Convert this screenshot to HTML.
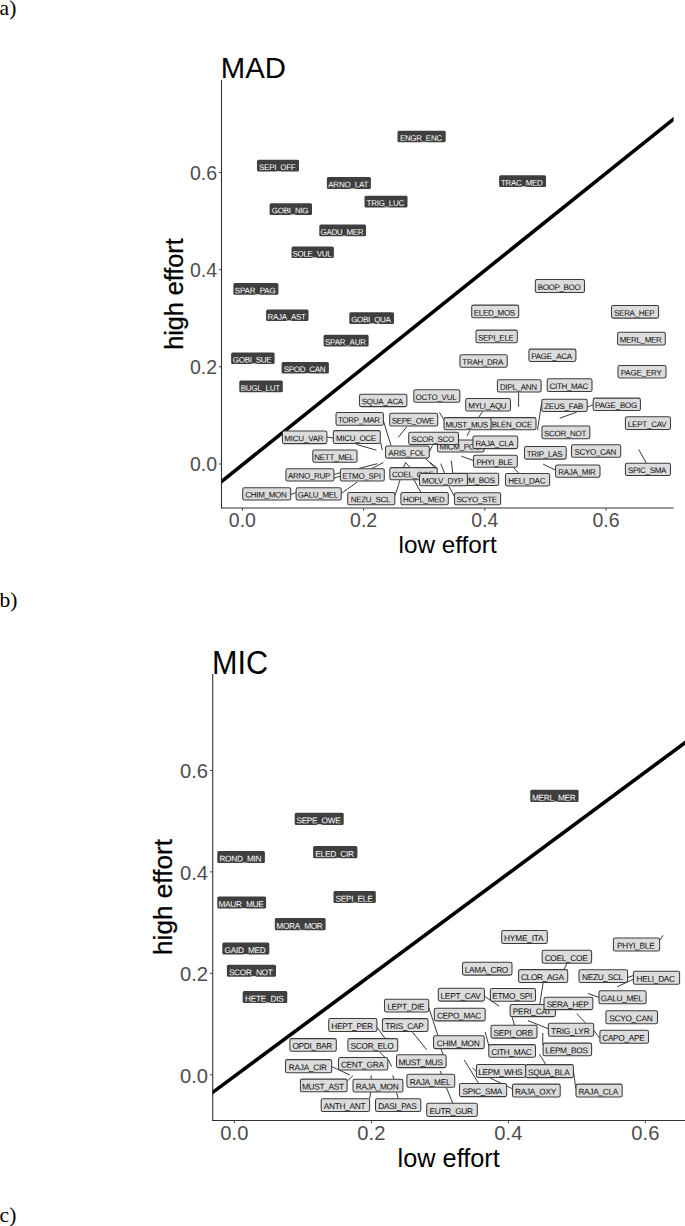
<!DOCTYPE html>
<html><head><meta charset="utf-8"><title>fig</title>
<style>
html,body{margin:0;padding:0;background:#fff;}
body{width:685px;height:1226px;position:relative;overflow:hidden;font-family:"Liberation Sans",sans-serif;}
.pl{position:absolute;left:-0.4px;font-family:"Liberation Serif",serif;font-size:21.5px;line-height:24px;color:#000;white-space:nowrap}
.lb{position:absolute;box-sizing:content-box;white-space:nowrap;overflow:visible;font-family:"Liberation Sans",sans-serif;}
.lb span{position:relative;display:block;}
.d{background:#3f3f3f;color:#fff;border-radius:1.5px;}
.d span{left:2.3px;top:1.3px}
.l{background:#dcdcdc;color:#1a1a1a;border:1px solid #3a3a3a;border-radius:2.5px;}
.l span{left:1.3px;top:1.0px}
svg{position:absolute;left:0;top:0}
.ax{stroke:#333;stroke-width:1.1}
.tk{stroke:#444;stroke-width:1}
.diag{stroke:#000;stroke-width:3.6}
.sg line{stroke:#222;stroke-width:0.9}
.rd{fill:#3f3f3f}
.rl{fill:#dcdcdc;stroke:#3c3c3c;stroke-width:1.05}
.td{fill:#fff}
.tl{fill:#0a0a0a}
.tt{position:absolute;color:#4d4d4d;white-space:nowrap}
.ti{position:absolute;color:#000;white-space:nowrap}
.sq{display:inline-block;transform:scaleX(0.98);transform-origin:50% 50%;-webkit-text-stroke:0.25px #000}
</style></head><body>
<div class="pl" style="top:-4.3px">a)</div>
<div class="pl" style="top:587.9px">b)</div>
<div class="pl" style="top:1202.7px">c)</div>

<svg width="685" height="1226" viewBox="0 0 685 1226">
<line class="ax" x1="221.5" y1="80" x2="221.5" y2="508.5"/>
<line class="ax" x1="221.0" y1="508.0" x2="673.5" y2="508.0"/>
<line class="tk" x1="242.4" y1="508.0" x2="242.4" y2="510.7"/>
<line class="tk" x1="218.8" y1="464.0" x2="221.5" y2="464.0"/>
<line class="tk" x1="363.6" y1="508.0" x2="363.6" y2="510.7"/>
<line class="tk" x1="218.8" y1="366.8" x2="221.5" y2="366.8"/>
<line class="tk" x1="484.8" y1="508.0" x2="484.8" y2="510.7"/>
<line class="tk" x1="218.8" y1="269.7" x2="221.5" y2="269.7"/>
<line class="tk" x1="606.0" y1="508.0" x2="606.0" y2="510.7"/>
<line class="tk" x1="218.8" y1="172.5" x2="221.5" y2="172.5"/>
<clipPath id="c221"><rect x="221.5" y="80" width="452.1" height="428.0"/></clipPath>
<line class="diag" clip-path="url(#c221)" x1="215.5" y1="486.4" x2="679.5" y2="114.4"/>
<line class="ax" x1="212.7" y1="673.9" x2="212.7" y2="1121.05"/>
<line class="ax" x1="212.2" y1="1120.55" x2="686" y2="1120.55"/>
<line class="tk" x1="234.4" y1="1120.55" x2="234.4" y2="1123.25"/>
<line class="tk" x1="210.0" y1="1074.8" x2="212.7" y2="1074.8"/>
<line class="tk" x1="371.4" y1="1120.55" x2="371.4" y2="1123.25"/>
<line class="tk" x1="210.0" y1="973.3" x2="212.7" y2="973.3"/>
<line class="tk" x1="508.4" y1="1120.55" x2="508.4" y2="1123.25"/>
<line class="tk" x1="210.0" y1="871.9" x2="212.7" y2="871.9"/>
<line class="tk" x1="645.4" y1="1120.55" x2="645.4" y2="1123.25"/>
<line class="tk" x1="210.0" y1="770.5" x2="212.7" y2="770.5"/>
<clipPath id="c212"><rect x="212.7" y="673.9" width="473.4" height="446.6"/></clipPath>
<line class="diag" clip-path="url(#c212)" x1="206.7" y1="1096.8" x2="692.0" y2="737.5"/>
<g class="sg">
<line x1="383.4" y1="420.8" x2="391.0" y2="445.6"/>
<line x1="406.6" y1="426.9" x2="398.3" y2="437.4"/>
<line x1="380.8" y1="442.7" x2="382.2" y2="450.0"/>
<line x1="356.3" y1="444.4" x2="376.4" y2="450.2"/>
<line x1="358.9" y1="468.4" x2="377.3" y2="463.7"/>
<line x1="371.2" y1="468.9" x2="383.4" y2="462.5"/>
<line x1="333.9" y1="474.5" x2="340.2" y2="472.8"/>
<line x1="333.9" y1="478.0" x2="340.2" y2="476.3"/>
<line x1="326.9" y1="437.0" x2="333.1" y2="438.0"/>
<line x1="290.7" y1="494.5" x2="295.9" y2="492.7"/>
<line x1="341.2" y1="493.5" x2="357.2" y2="482.1"/>
<line x1="395.2" y1="495.2" x2="400.0" y2="480.0"/>
<line x1="420.7" y1="492.1" x2="414.1" y2="480.0"/>
<line x1="403.6" y1="467.2" x2="405.7" y2="462.5"/>
<line x1="405.7" y1="462.5" x2="409.7" y2="467.2"/>
<line x1="426.0" y1="459.0" x2="435.1" y2="467.7"/>
<line x1="440.7" y1="463.7" x2="444.7" y2="473.3"/>
<line x1="432.5" y1="445.3" x2="429.3" y2="452.3"/>
<line x1="439.5" y1="412.4" x2="443.9" y2="419.9"/>
<line x1="518.6" y1="392.6" x2="518.6" y2="406.8"/>
<line x1="541.6" y1="403.1" x2="537.5" y2="430.2"/>
<line x1="482.8" y1="411.2" x2="478.4" y2="417.6"/>
<line x1="469.9" y1="430.5" x2="467.0" y2="435.9"/>
<line x1="461.3" y1="456.2" x2="473.3" y2="460.5"/>
<line x1="513.5" y1="467.6" x2="518.8" y2="473.3"/>
<line x1="543.1" y1="464.1" x2="555.4" y2="470.1"/>
<line x1="451.3" y1="460.9" x2="452.8" y2="473.3"/>
<line x1="430.0" y1="462.4" x2="437.6" y2="468.5"/>
<line x1="449.0" y1="486.5" x2="454.3" y2="496.0"/>
<line x1="587.2" y1="407.2" x2="593.0" y2="404.7"/>
<line x1="576.6" y1="412.2" x2="559.7" y2="418.2"/>
<line x1="638.7" y1="449.5" x2="646.4" y2="463.3"/>
<line x1="376.9" y1="1027.2" x2="385.0" y2="1038.4"/>
<line x1="412.5" y1="1032.0" x2="426.5" y2="1049.6"/>
<line x1="379.5" y1="1052.0" x2="385.0" y2="1057.4"/>
<line x1="388.2" y1="1059.6" x2="391.7" y2="1066.6"/>
<line x1="331.7" y1="1066.6" x2="349.9" y2="1075.0"/>
<line x1="347.5" y1="1080.9" x2="353.2" y2="1075.4"/>
<line x1="371.2" y1="1075.4" x2="371.2" y2="1079.2"/>
<line x1="392.8" y1="1075.3" x2="393.9" y2="1079.3"/>
<line x1="369.6" y1="1098.8" x2="370.7" y2="1092.3"/>
<line x1="398.3" y1="1098.8" x2="396.5" y2="1092.5"/>
<line x1="428.7" y1="1007.4" x2="438.0" y2="1035.8"/>
<line x1="441.0" y1="1049.2" x2="443.2" y2="1054.8"/>
<line x1="484.4" y1="996.2" x2="499.3" y2="1006.2"/>
<line x1="512.3" y1="1017.3" x2="514.4" y2="1025.2"/>
<line x1="485.2" y1="1032.0" x2="488.9" y2="1046.0"/>
<line x1="464.2" y1="1059.9" x2="478.4" y2="1083.2"/>
<line x1="472.5" y1="1067.6" x2="476.2" y2="1071.5"/>
<line x1="490.0" y1="1077.9" x2="512.3" y2="1088.7"/>
<line x1="440.1" y1="1070.9" x2="441.6" y2="1074.2"/>
<line x1="446.6" y1="1088.0" x2="452.8" y2="1103.3"/>
<line x1="659.6" y1="940.4" x2="663.2" y2="935.3"/>
<line x1="566.8" y1="963.8" x2="563.8" y2="969.7"/>
<line x1="543.1" y1="983.0" x2="539.7" y2="1004.6"/>
<line x1="627.6" y1="977.5" x2="633.2" y2="975.6"/>
<line x1="633.2" y1="979.3" x2="617.1" y2="986.8"/>
<line x1="587.8" y1="993.4" x2="598.8" y2="997.3"/>
<line x1="576.7" y1="1013.7" x2="585.4" y2="1022.9"/>
<line x1="528.0" y1="1020.7" x2="548.4" y2="1028.7"/>
<line x1="593.7" y1="1030.2" x2="599.7" y2="1038.3"/>
<line x1="542.8" y1="1033.0" x2="542.8" y2="1045.0"/>
<line x1="539.4" y1="1054.1" x2="545.8" y2="1064.6"/>
<line x1="573.4" y1="1070.6" x2="575.8" y2="1088.6"/>
</g>
</svg>

<!-- titles -->
<div class="ti" style="left:220.8px;top:51.98px;font-size:29.3px;line-height:32.73px;transform-origin:0 81%;transform:scaleY(1.025)">MAD</div>
<div class="ti" style="left:211.9px;top:645.61px;font-size:30.6px;line-height:34.18px;transform-origin:0 81%;transform:scaleY(1.065)">MIC</div>
<div class="ti" style="left:347.6px;width:200px;text-align:center;top:530.7px;font-size:24.3px;line-height:27.14px">low effort</div>
<div class="ti" style="left:348.7px;width:200px;text-align:center;top:1144.0px;font-size:25.3px;line-height:28.26px">low effort</div>
<div class="ti" id="ya" style="left:183.2px;top:294.2px;font-size:25.7px;line-height:28.71px;transform-origin:0 0;transform:rotate(-90deg) translate(-50%,-23.26px)"><span class="sq">high effort</span></div>
<div class="ti" id="yb" style="left:172.8px;top:896.6px;font-size:26.7px;line-height:29.82px;transform-origin:0 0;transform:rotate(-90deg) translate(-50%,-24.16px)"><span class="sq">high effort</span></div>

<div class="tt" style="left:212.4px;width:60px;text-align:center;top:509.9px;font-size:19.5px;line-height:21.78px">0.0</div>
<div class="tt" style="left:157.0px;width:60px;text-align:right;top:454.4px;font-size:19.5px;line-height:21.78px">0.0</div>
<div class="tt" style="left:333.6px;width:60px;text-align:center;top:509.9px;font-size:19.5px;line-height:21.78px">0.2</div>
<div class="tt" style="left:157.0px;width:60px;text-align:right;top:357.2px;font-size:19.5px;line-height:21.78px">0.2</div>
<div class="tt" style="left:454.8px;width:60px;text-align:center;top:509.9px;font-size:19.5px;line-height:21.78px">0.4</div>
<div class="tt" style="left:157.0px;width:60px;text-align:right;top:260.0px;font-size:19.5px;line-height:21.78px">0.4</div>
<div class="tt" style="left:576.0px;width:60px;text-align:center;top:509.9px;font-size:19.5px;line-height:21.78px">0.6</div>
<div class="tt" style="left:157.0px;width:60px;text-align:right;top:162.9px;font-size:19.5px;line-height:21.78px">0.6</div>
<div class="tt" style="left:204.4px;width:60px;text-align:center;top:1122.3px;font-size:20.2px;line-height:22.56px">0.0</div>
<div class="tt" style="left:148.1px;width:60px;text-align:right;top:1064.6px;font-size:20.2px;line-height:22.56px">0.0</div>
<div class="tt" style="left:341.4px;width:60px;text-align:center;top:1122.3px;font-size:20.2px;line-height:22.56px">0.2</div>
<div class="tt" style="left:148.1px;width:60px;text-align:right;top:963.1px;font-size:20.2px;line-height:22.56px">0.2</div>
<div class="tt" style="left:478.4px;width:60px;text-align:center;top:1122.3px;font-size:20.2px;line-height:22.56px">0.4</div>
<div class="tt" style="left:148.1px;width:60px;text-align:right;top:861.7px;font-size:20.2px;line-height:22.56px">0.4</div>
<div class="tt" style="left:615.4px;width:60px;text-align:center;top:1122.3px;font-size:20.2px;line-height:22.56px">0.6</div>
<div class="tt" style="left:148.1px;width:60px;text-align:right;top:760.3px;font-size:20.2px;line-height:22.56px">0.6</div>

<svg width="685" height="1226" viewBox="0 0 685 1226" font-family="Liberation Sans, sans-serif">
<rect class="rd" x="397.50" y="130.80" width="48.20" height="11.50" rx="1.5"/><text class="td" x="399.89" y="140.75" font-size="8.0" textLength="42.23" transform="rotate(0.03 421.0 140.8)">ENGR_ENC</text>
<rect class="rd" x="257.00" y="159.80" width="42.00" height="11.70" rx="1.5"/><text class="td" x="259.03" y="169.95" font-size="8.0" textLength="36.75" transform="rotate(0.03 277.4 169.9)">SEPI_OFF</text>
<rect class="rd" x="326.90" y="177.00" width="44.00" height="11.90" rx="1.5"/><text class="td" x="328.24" y="187.35" font-size="8.0" textLength="40.12" transform="rotate(0.03 348.3 187.3)">ARNO_LAT</text>
<rect class="rd" x="499.10" y="175.30" width="46.90" height="11.70" rx="1.5"/><text class="td" x="501.05" y="185.45" font-size="8.0" textLength="41.80" transform="rotate(0.03 521.9 185.4)">TRAC_MED</text>
<rect class="rd" x="364.50" y="195.80" width="43.00" height="11.60" rx="1.5"/><text class="td" x="366.61" y="205.85" font-size="8.0" textLength="37.58" transform="rotate(0.03 385.4 205.8)">TRIG_LUC</text>
<rect class="rd" x="269.60" y="203.30" width="42.40" height="11.60" rx="1.5"/><text class="td" x="271.83" y="213.35" font-size="8.0" textLength="36.75" transform="rotate(0.03 290.2 213.3)">GOBI_NIG</text>
<rect class="rd" x="319.30" y="224.60" width="46.70" height="11.60" rx="1.5"/><text class="td" x="320.52" y="234.65" font-size="8.0" textLength="43.07" transform="rotate(0.03 342.0 234.6)">GADU_MER</text>
<rect class="rd" x="291.50" y="246.50" width="42.40" height="11.50" rx="1.5"/><text class="td" x="292.46" y="256.45" font-size="8.0" textLength="39.28" transform="rotate(0.03 312.1 256.4)">SOLE_VUL</text>
<rect class="rd" x="233.40" y="283.10" width="45.00" height="11.60" rx="1.5"/><text class="td" x="234.81" y="293.15" font-size="8.0" textLength="40.97" transform="rotate(0.03 255.3 293.1)">SPAR_PAG</text>
<rect class="rd" x="266.10" y="309.60" width="42.40" height="11.40" rx="1.5"/><text class="td" x="267.48" y="319.45" font-size="8.0" textLength="38.43" transform="rotate(0.03 286.7 319.4)">RAJA_AST</text>
<rect class="rd" x="349.30" y="312.30" width="44.70" height="11.60" rx="1.5"/><text class="td" x="351.20" y="322.35" font-size="8.0" textLength="39.70" transform="rotate(0.03 371.0 322.3)">GOBI_QUA</text>
<rect class="rd" x="323.60" y="334.80" width="45.00" height="11.60" rx="1.5"/><text class="td" x="325.02" y="344.85" font-size="8.0" textLength="40.96" transform="rotate(0.03 345.5 344.8)">SPAR_AUR</text>
<rect class="rd" x="231.10" y="352.60" width="43.50" height="11.40" rx="1.5"/><text class="td" x="232.82" y="362.45" font-size="8.0" textLength="38.86" transform="rotate(0.03 252.3 362.4)">GOBI_SUE</text>
<rect class="rd" x="281.60" y="361.90" width="47.30" height="11.60" rx="1.5"/><text class="td" x="283.75" y="371.95" font-size="8.0" textLength="41.81" transform="rotate(0.03 304.6 371.9)">SPOD_CAN</text>
<rect class="rd" x="239.30" y="380.60" width="43.50" height="11.60" rx="1.5"/><text class="td" x="240.81" y="390.65" font-size="8.0" textLength="39.28" transform="rotate(0.03 260.4 390.6)">BUGL_LUT</text>
<rect class="rl" x="535.30" y="279.40" width="49.20" height="13.10" rx="1.8"/><text class="tl" x="537.66" y="290.10" font-size="8.0" textLength="43.08" transform="rotate(0.03 559.2 290.1)">BOOP_BOO</text>
<rect class="rl" x="471.70" y="305.10" width="47.00" height="12.70" rx="1.8"/><text class="tl" x="473.81" y="315.40" font-size="8.0" textLength="41.39" transform="rotate(0.03 494.5 315.4)">ELED_MOS</text>
<rect class="rl" x="611.50" y="305.50" width="47.10" height="12.60" rx="1.8"/><text class="tl" x="614.08" y="315.70" font-size="8.0" textLength="40.55" transform="rotate(0.03 634.4 315.7)">SERA_HEP</text>
<rect class="rl" x="476.00" y="330.10" width="41.30" height="12.70" rx="1.8"/><text class="tl" x="477.99" y="340.40" font-size="8.0" textLength="35.91" transform="rotate(0.03 495.9 340.4)">SEPI_ELE</text>
<rect class="rl" x="617.60" y="332.20" width="47.70" height="12.80" rx="1.8"/><text class="tl" x="619.64" y="342.60" font-size="8.0" textLength="42.23" transform="rotate(0.03 640.7 342.6)">MERL_MER</text>
<rect class="rl" x="528.90" y="349.10" width="47.00" height="12.30" rx="1.8"/><text class="tl" x="531.21" y="359.00" font-size="8.0" textLength="40.97" transform="rotate(0.03 551.7 359.0)">PAGE_ACA</text>
<rect class="rl" x="459.90" y="354.80" width="47.30" height="12.40" rx="1.8"/><text class="tl" x="462.37" y="364.80" font-size="8.0" textLength="40.96" transform="rotate(0.03 482.8 364.8)">TRAH_DRA</text>
<rect class="rl" x="618.00" y="365.50" width="48.00" height="12.40" rx="1.8"/><text class="tl" x="620.81" y="375.50" font-size="8.0" textLength="40.97" transform="rotate(0.03 641.3 375.5)">PAGE_ERY</text>
<rect class="rl" x="497.40" y="379.80" width="43.70" height="12.30" rx="1.8"/><text class="tl" x="499.97" y="389.70" font-size="8.0" textLength="37.16" transform="rotate(0.03 518.5 389.7)">DIPL_ANN</text>
<rect class="rl" x="547.20" y="378.70" width="44.80" height="12.80" rx="1.8"/><text class="tl" x="549.48" y="389.10" font-size="8.0" textLength="38.84" transform="rotate(0.03 568.9 389.1)">CITH_MAC</text>
<rect class="rl" x="359.50" y="394.20" width="47.40" height="12.40" rx="1.8"/><text class="tl" x="361.81" y="404.20" font-size="8.0" textLength="41.39" transform="rotate(0.03 382.5 404.2)">SQUA_ACA</text>
<rect class="rl" x="413.80" y="389.80" width="46.00" height="12.50" rx="1.8"/><text class="tl" x="415.62" y="399.90" font-size="8.0" textLength="40.96" transform="rotate(0.03 436.1 399.9)">OCTO_VUL</text>
<rect class="rl" x="465.70" y="398.50" width="44.80" height="12.50" rx="1.8"/><text class="tl" x="468.18" y="408.60" font-size="8.0" textLength="38.43" transform="rotate(0.03 487.4 408.6)">MYLI_AQU</text>
<rect class="rl" x="541.80" y="399.30" width="45.40" height="12.20" rx="1.8"/><text class="tl" x="544.16" y="409.10" font-size="8.0" textLength="39.28" transform="rotate(0.03 563.8 409.1)">ZEUS_FAB</text>
<rect class="rl" x="593.20" y="398.10" width="47.20" height="12.40" rx="1.8"/><text class="tl" x="594.98" y="408.10" font-size="8.0" textLength="42.24" transform="rotate(0.03 616.1 408.1)">PAGE_BOG</text>
<rect class="rl" x="336.00" y="412.50" width="47.40" height="12.70" rx="1.8"/><text class="tl" x="337.89" y="422.80" font-size="8.0" textLength="42.23" transform="rotate(0.03 359.0 422.8)">TORP_MAR</text>
<rect class="rl" x="389.70" y="413.30" width="48.00" height="12.70" rx="1.8"/><text class="tl" x="391.67" y="423.60" font-size="8.0" textLength="42.66" transform="rotate(0.03 413.0 423.6)">SEPE_OWE</text>
<rect class="rl" x="489.50" y="417.60" width="46.50" height="12.10" rx="1.8"/><text class="tl" x="491.78" y="427.30" font-size="8.0" textLength="40.55" transform="rotate(0.03 512.0 427.3)">BLEN_OCE</text>
<rect class="rl" x="444.00" y="417.60" width="47.10" height="12.20" rx="1.8"/><text class="tl" x="445.53" y="427.40" font-size="8.0" textLength="42.64" transform="rotate(0.03 466.9 427.4)">MUST_MUS</text>
<rect class="rl" x="625.40" y="416.80" width="45.10" height="12.70" rx="1.8"/><text class="tl" x="627.82" y="427.10" font-size="8.0" textLength="38.86" transform="rotate(0.03 647.2 427.1)">LEPT_CAV</text>
<rect class="rl" x="542.00" y="425.90" width="47.80" height="12.80" rx="1.8"/><text class="tl" x="544.09" y="436.30" font-size="8.0" textLength="42.23" transform="rotate(0.03 565.2 436.3)">SCOR_NOT</text>
<rect class="rl" x="282.40" y="431.00" width="44.50" height="12.60" rx="1.8"/><text class="tl" x="284.32" y="441.20" font-size="8.0" textLength="39.27" transform="rotate(0.03 303.9 441.2)">MICU_VAR</text>
<rect class="rl" x="333.30" y="430.60" width="47.00" height="12.90" rx="1.8"/><text class="tl" x="336.04" y="441.10" font-size="8.0" textLength="40.11" transform="rotate(0.03 356.1 441.1)">MICU_OCE</text>
<rect class="rl" x="437.40" y="440.00" width="46.70" height="11.90" rx="1.8"/><text class="tl" x="439.57" y="449.50" font-size="8.0" textLength="40.96" transform="rotate(0.03 460.0 449.5)">MICM_POU</text>
<rect class="rl" x="408.70" y="432.30" width="49.80" height="12.20" rx="1.8"/><text class="tl" x="411.57" y="442.10" font-size="8.0" textLength="42.65" transform="rotate(0.03 432.9 442.1)">SCOR_SCO</text>
<rect class="rl" x="472.90" y="435.90" width="44.80" height="12.70" rx="1.8"/><text class="tl" x="475.38" y="446.20" font-size="8.0" textLength="38.43" transform="rotate(0.03 494.6 446.2)">RAJA_CLA</text>
<rect class="rl" x="385.50" y="445.90" width="43.80" height="12.20" rx="1.8"/><text class="tl" x="388.33" y="455.70" font-size="8.0" textLength="36.75" transform="rotate(0.03 406.7 455.7)">ARIS_FOL</text>
<rect class="rl" x="524.50" y="446.50" width="41.70" height="12.60" rx="1.8"/><text class="tl" x="526.70" y="456.70" font-size="8.0" textLength="35.90" transform="rotate(0.03 544.6 456.7)">TRIP_LAS</text>
<rect class="rl" x="571.50" y="444.70" width="49.20" height="12.50" rx="1.8"/><text class="tl" x="574.50" y="454.80" font-size="8.0" textLength="41.81" transform="rotate(0.03 595.4 454.8)">SCYO_CAN</text>
<rect class="rl" x="312.80" y="450.00" width="44.20" height="12.30" rx="1.8"/><text class="tl" x="314.35" y="459.90" font-size="8.0" textLength="39.69" transform="rotate(0.03 334.2 459.9)">NETT_MEL</text>
<rect class="rl" x="473.50" y="455.20" width="43.80" height="12.10" rx="1.8"/><text class="tl" x="476.54" y="464.90" font-size="8.0" textLength="36.33" transform="rotate(0.03 494.7 464.9)">PHYI_BLE</text>
<rect class="rl" x="555.60" y="465.00" width="44.40" height="12.20" rx="1.8"/><text class="tl" x="558.31" y="474.80" font-size="8.0" textLength="37.58" transform="rotate(0.03 577.1 474.8)">RAJA_MIR</text>
<rect class="rl" x="625.40" y="463.30" width="45.10" height="12.20" rx="1.8"/><text class="tl" x="628.03" y="473.10" font-size="8.0" textLength="38.43" transform="rotate(0.03 647.2 473.1)">SPIC_SMA</text>
<rect class="rl" x="285.90" y="468.70" width="48.00" height="12.30" rx="1.8"/><text class="tl" x="288.09" y="478.60" font-size="8.0" textLength="42.23" transform="rotate(0.03 309.2 478.6)">ARNO_RUP</text>
<rect class="rl" x="340.40" y="468.80" width="43.90" height="12.30" rx="1.8"/><text class="tl" x="342.43" y="478.70" font-size="8.0" textLength="38.43" transform="rotate(0.03 361.6 478.7)">ETMO_SPI</text>
<rect class="rl" x="389.80" y="467.60" width="47.40" height="12.10" rx="1.8"/><text class="tl" x="392.11" y="477.30" font-size="8.0" textLength="41.39" transform="rotate(0.03 412.8 477.3)">COEL_COE</text>
<rect class="rl" x="451.90" y="473.30" width="46.80" height="12.20" rx="1.8"/><text class="tl" x="454.11" y="483.10" font-size="8.0" textLength="40.97" transform="rotate(0.03 474.6 483.1)">LEPM_BOS</text>
<rect class="rl" x="419.50" y="473.50" width="47.90" height="12.30" rx="1.8"/><text class="tl" x="422.06" y="483.40" font-size="8.0" textLength="41.39" transform="rotate(0.03 442.8 483.4)">MOLV_DYP</text>
<rect class="rl" x="505.50" y="473.40" width="44.10" height="12.50" rx="1.8"/><text class="tl" x="508.27" y="483.50" font-size="8.0" textLength="37.16" transform="rotate(0.03 526.9 483.5)">HELI_DAC</text>
<rect class="rl" x="242.70" y="487.70" width="48.00" height="12.30" rx="1.8"/><text class="tl" x="245.31" y="497.60" font-size="8.0" textLength="41.37" transform="rotate(0.03 266.0 497.6)">CHIM_MON</text>
<rect class="rl" x="296.10" y="487.70" width="45.10" height="12.30" rx="1.8"/><text class="tl" x="297.68" y="497.60" font-size="8.0" textLength="40.55" transform="rotate(0.03 317.9 497.6)">GALU_MEL</text>
<rect class="rl" x="347.70" y="492.40" width="47.10" height="12.30" rx="1.8"/><text class="tl" x="350.70" y="502.30" font-size="8.0" textLength="39.69" transform="rotate(0.03 370.5 502.3)">NEZU_SCL</text>
<rect class="rl" x="400.90" y="492.40" width="47.40" height="12.30" rx="1.8"/><text class="tl" x="403.00" y="502.30" font-size="8.0" textLength="41.81" transform="rotate(0.03 423.9 502.3)">HOPL_MED</text>
<rect class="rl" x="454.50" y="492.80" width="46.10" height="11.90" rx="1.8"/><text class="tl" x="456.58" y="502.30" font-size="8.0" textLength="40.55" transform="rotate(0.03 476.9 502.3)">SCYO_STE</text>
<rect class="rd" x="530.30" y="789.80" width="48.30" height="12.20" rx="1.5"/><text class="td" x="531.90" y="800.45" font-size="8.3" textLength="43.89" transform="rotate(0.03 553.9 800.5)">MERL_MER</text>
<rect class="rd" x="294.70" y="812.70" width="49.00" height="12.20" rx="1.5"/><text class="td" x="296.43" y="823.35" font-size="8.3" textLength="44.34" transform="rotate(0.03 318.6 823.4)">SEPE_OWE</text>
<rect class="rd" x="313.10" y="846.00" width="44.30" height="12.20" rx="1.5"/><text class="td" x="315.33" y="856.65" font-size="8.3" textLength="38.63" transform="rotate(0.03 334.6 856.7)">ELED_CIR</text>
<rect class="rd" x="217.30" y="851.00" width="47.60" height="12.00" rx="1.5"/><text class="td" x="219.43" y="861.45" font-size="8.3" textLength="42.13" transform="rotate(0.03 240.5 861.5)">ROND_MIN</text>
<rect class="rd" x="333.50" y="891.00" width="42.30" height="12.00" rx="1.5"/><text class="td" x="335.39" y="901.45" font-size="8.3" textLength="37.33" transform="rotate(0.03 354.0 901.5)">SEPI_ELE</text>
<rect class="rd" x="217.30" y="896.50" width="48.80" height="12.10" rx="1.5"/><text class="td" x="218.50" y="907.05" font-size="8.3" textLength="45.20" transform="rotate(0.03 241.1 907.1)">MAUR_MUE</text>
<rect class="rd" x="274.80" y="918.10" width="50.80" height="12.20" rx="1.5"/><text class="td" x="276.34" y="928.75" font-size="8.3" textLength="46.52" transform="rotate(0.03 299.6 928.8)">MORA_MOR</text>
<rect class="rd" x="222.30" y="942.60" width="47.00" height="12.00" rx="1.5"/><text class="td" x="224.57" y="953.05" font-size="8.3" textLength="41.26" transform="rotate(0.03 245.2 953.1)">GAID_MED</text>
<rect class="rd" x="226.90" y="964.80" width="49.10" height="12.00" rx="1.5"/><text class="td" x="228.90" y="975.25" font-size="8.3" textLength="43.89" transform="rotate(0.03 250.8 975.2)">SCOR_NOT</text>
<rect class="rd" x="242.70" y="990.90" width="44.60" height="12.10" rx="1.5"/><text class="td" x="245.08" y="1001.45" font-size="8.3" textLength="38.63" transform="rotate(0.03 264.4 1001.5)">HETE_DIS</text>
<rect class="rl" x="501.70" y="930.50" width="45.60" height="13.00" rx="1.8"/><text class="tl" x="504.05" y="941.10" font-size="8.3" textLength="39.51" transform="rotate(0.03 523.8 941.1)">HYME_ITA</text>
<rect class="rl" x="613.40" y="938.00" width="46.20" height="13.00" rx="1.8"/><text class="tl" x="616.92" y="948.60" font-size="8.3" textLength="37.76" transform="rotate(0.03 635.8 948.6)">PHYI_BLE</text>
<rect class="rl" x="542.20" y="950.30" width="49.40" height="13.00" rx="1.8"/><text class="tl" x="544.69" y="960.90" font-size="8.3" textLength="43.02" transform="rotate(0.03 566.2 960.9)">COEL_COE</text>
<rect class="rl" x="462.50" y="962.30" width="49.50" height="12.80" rx="1.8"/><text class="tl" x="464.82" y="972.70" font-size="8.3" textLength="43.46" transform="rotate(0.03 486.5 972.7)">LAMA_CRO</text>
<rect class="rl" x="518.60" y="969.60" width="49.10" height="12.90" rx="1.8"/><text class="tl" x="520.94" y="980.10" font-size="8.3" textLength="43.02" transform="rotate(0.03 542.4 980.1)">CLOR_AGA</text>
<rect class="rl" x="579.00" y="969.70" width="48.60" height="12.70" rx="1.8"/><text class="tl" x="581.97" y="980.00" font-size="8.3" textLength="41.26" transform="rotate(0.03 602.6 980.0)">NEZU_SCL</text>
<rect class="rl" x="633.40" y="971.20" width="46.20" height="13.00" rx="1.8"/><text class="tl" x="636.48" y="981.80" font-size="8.3" textLength="38.63" transform="rotate(0.03 655.8 981.8)">HELI_DAC</text>
<rect class="rl" x="438.30" y="988.20" width="46.10" height="12.90" rx="1.8"/><text class="tl" x="440.45" y="998.70" font-size="8.3" textLength="40.39" transform="rotate(0.03 460.6 998.7)">LEPT_CAV</text>
<rect class="rl" x="490.40" y="988.40" width="45.10" height="12.80" rx="1.8"/><text class="tl" x="492.27" y="998.80" font-size="8.3" textLength="39.95" transform="rotate(0.03 512.2 998.8)">ETMO_SPI</text>
<rect class="rl" x="599.00" y="990.70" width="47.10" height="13.00" rx="1.8"/><text class="tl" x="600.78" y="1001.30" font-size="8.3" textLength="42.15" transform="rotate(0.03 621.9 1001.3)">GALU_MEL</text>
<rect class="rl" x="384.50" y="999.20" width="44.20" height="12.70" rx="1.8"/><text class="tl" x="387.24" y="1009.50" font-size="8.3" textLength="37.32" transform="rotate(0.03 405.9 1009.5)">LEPT_DIE</text>
<rect class="rl" x="510.10" y="1004.40" width="45.30" height="12.20" rx="1.8"/><text class="tl" x="512.73" y="1014.20" font-size="8.3" textLength="38.63" transform="rotate(0.03 532.0 1014.2)">PERI_CAT</text>
<rect class="rl" x="544.00" y="997.30" width="48.80" height="12.30" rx="1.8"/><text class="tl" x="546.63" y="1007.20" font-size="8.3" textLength="42.15" transform="rotate(0.03 567.7 1007.2)">SERA_HEP</text>
<rect class="rl" x="434.30" y="1008.30" width="50.90" height="12.60" rx="1.8"/><text class="tl" x="436.88" y="1018.50" font-size="8.3" textLength="44.33" transform="rotate(0.03 459.0 1018.5)">CEPO_MAC</text>
<rect class="rl" x="605.90" y="1010.70" width="51.60" height="13.00" rx="1.8"/><text class="tl" x="609.27" y="1021.30" font-size="8.3" textLength="43.46" transform="rotate(0.03 631.0 1021.3)">SCYO_CAN</text>
<rect class="rl" x="328.70" y="1018.50" width="48.20" height="13.00" rx="1.8"/><text class="tl" x="331.25" y="1029.10" font-size="8.3" textLength="41.70" transform="rotate(0.03 352.1 1029.1)">HEPT_PER</text>
<rect class="rl" x="382.40" y="1018.60" width="45.60" height="12.90" rx="1.8"/><text class="tl" x="385.18" y="1029.10" font-size="8.3" textLength="38.63" transform="rotate(0.03 404.5 1029.1)">TRIS_CAP</text>
<rect class="rl" x="548.40" y="1023.30" width="45.30" height="13.00" rx="1.8"/><text class="tl" x="551.03" y="1033.90" font-size="8.3" textLength="38.63" transform="rotate(0.03 570.4 1033.9)">TRIG_LYR</text>
<rect class="rl" x="491.00" y="1025.20" width="46.00" height="12.90" rx="1.8"/><text class="tl" x="493.54" y="1035.70" font-size="8.3" textLength="39.52" transform="rotate(0.03 513.3 1035.7)">SEPI_ORB</text>
<rect class="rl" x="599.90" y="1030.20" width="48.60" height="13.00" rx="1.8"/><text class="tl" x="602.21" y="1040.80" font-size="8.3" textLength="42.59" transform="rotate(0.03 623.5 1040.8)">CAPO_APE</text>
<rect class="rl" x="433.60" y="1035.80" width="50.60" height="12.80" rx="1.8"/><text class="tl" x="436.70" y="1046.20" font-size="8.3" textLength="43.01" transform="rotate(0.03 458.2 1046.2)">CHIM_MON</text>
<rect class="rl" x="289.90" y="1038.60" width="46.40" height="12.60" rx="1.8"/><text class="tl" x="292.42" y="1048.80" font-size="8.3" textLength="39.95" transform="rotate(0.03 312.4 1048.8)">OPDI_BAR</text>
<rect class="rl" x="347.90" y="1038.60" width="49.80" height="12.60" rx="1.8"/><text class="tl" x="350.59" y="1048.80" font-size="8.3" textLength="43.02" transform="rotate(0.03 372.1 1048.8)">SCOR_ELO</text>
<rect class="rl" x="543.10" y="1043.10" width="48.50" height="12.60" rx="1.8"/><text class="tl" x="545.36" y="1053.30" font-size="8.3" textLength="42.59" transform="rotate(0.03 566.6 1053.3)">LEPM_BOS</text>
<rect class="rl" x="488.80" y="1044.60" width="46.70" height="12.70" rx="1.8"/><text class="tl" x="491.26" y="1054.90" font-size="8.3" textLength="40.38" transform="rotate(0.03 511.4 1054.9)">CITH_MAC</text>
<rect class="rl" x="396.50" y="1054.80" width="49.60" height="12.80" rx="1.8"/><text class="tl" x="398.44" y="1065.20" font-size="8.3" textLength="44.33" transform="rotate(0.03 420.6 1065.2)">MUST_MUS</text>
<rect class="rl" x="338.50" y="1057.40" width="49.30" height="12.60" rx="1.8"/><text class="tl" x="340.94" y="1067.60" font-size="8.3" textLength="43.02" transform="rotate(0.03 362.4 1067.6)">CENT_GRA</text>
<rect class="rl" x="285.50" y="1059.60" width="46.20" height="13.10" rx="1.8"/><text class="tl" x="288.81" y="1070.30" font-size="8.3" textLength="38.19" transform="rotate(0.03 307.9 1070.3)">RAJA_CIR</text>
<rect class="rl" x="476.40" y="1064.50" width="49.50" height="12.90" rx="1.8"/><text class="tl" x="478.28" y="1075.00" font-size="8.3" textLength="44.33" transform="rotate(0.03 500.4 1075.0)">LEPM_WHS</text>
<rect class="rl" x="525.70" y="1064.60" width="47.70" height="13.00" rx="1.8"/><text class="tl" x="527.99" y="1075.20" font-size="8.3" textLength="41.71" transform="rotate(0.03 548.9 1075.2)">SQUA_BLA</text>
<rect class="rl" x="406.90" y="1074.20" width="47.80" height="13.10" rx="1.8"/><text class="tl" x="409.69" y="1084.90" font-size="8.3" textLength="40.83" transform="rotate(0.03 430.1 1084.9)">RAJA_MEL</text>
<rect class="rl" x="300.40" y="1079.10" width="46.70" height="12.70" rx="1.8"/><text class="tl" x="301.98" y="1089.40" font-size="8.3" textLength="42.14" transform="rotate(0.03 323.0 1089.4)">MUST_AST</text>
<rect class="rl" x="353.00" y="1079.20" width="49.90" height="12.80" rx="1.8"/><text class="tl" x="355.74" y="1089.60" font-size="8.3" textLength="43.02" transform="rotate(0.03 377.2 1089.6)">RAJA_MON</text>
<rect class="rl" x="459.50" y="1083.40" width="47.20" height="13.20" rx="1.8"/><text class="tl" x="462.42" y="1094.20" font-size="8.3" textLength="39.95" transform="rotate(0.03 482.4 1094.2)">SPIC_SMA</text>
<rect class="rl" x="512.50" y="1084.10" width="47.70" height="12.90" rx="1.8"/><text class="tl" x="515.02" y="1094.60" font-size="8.3" textLength="41.27" transform="rotate(0.03 535.6 1094.6)">RAJA_OXY</text>
<rect class="rl" x="576.00" y="1084.10" width="46.20" height="12.90" rx="1.8"/><text class="tl" x="578.42" y="1094.60" font-size="8.3" textLength="39.95" transform="rotate(0.03 598.4 1094.6)">RAJA_CLA</text>
<rect class="rl" x="321.20" y="1098.80" width="48.40" height="12.70" rx="1.8"/><text class="tl" x="323.85" y="1109.10" font-size="8.3" textLength="41.70" transform="rotate(0.03 344.7 1109.1)">ANTH_ANT</text>
<rect class="rl" x="375.50" y="1098.80" width="45.30" height="12.70" rx="1.8"/><text class="tl" x="378.13" y="1109.10" font-size="8.3" textLength="38.64" transform="rotate(0.03 397.4 1109.1)">DASI_PAS</text>
<rect class="rl" x="426.70" y="1103.30" width="50.60" height="13.10" rx="1.8"/><text class="tl" x="429.57" y="1114.00" font-size="8.3" textLength="43.45" transform="rotate(0.03 451.3 1114.0)">EUTR_GUR</text>
</svg>
</body></html>
